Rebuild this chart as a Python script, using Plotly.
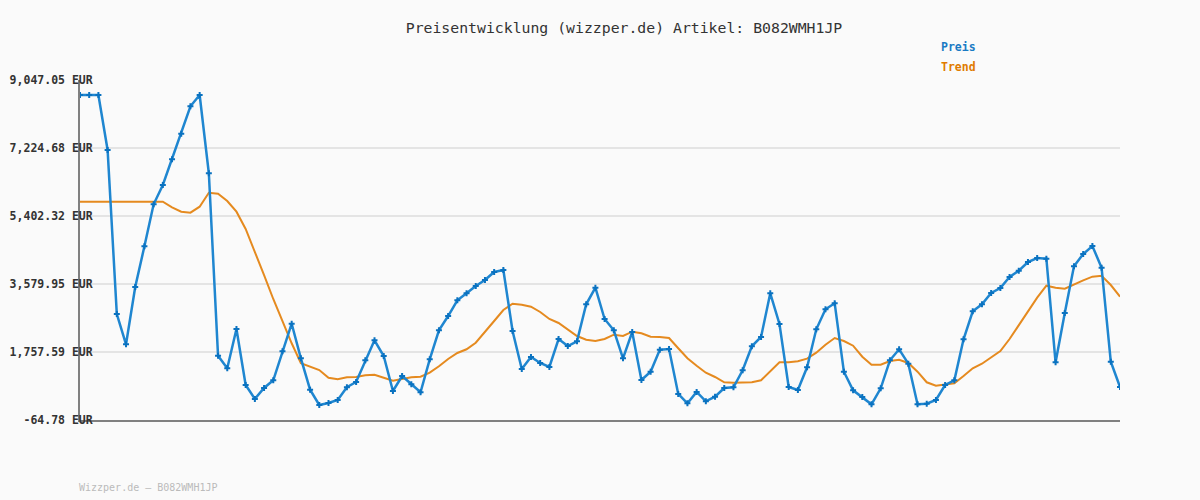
import plotly.graph_objects as go

title_text = "Preisentwicklung (wizzper.de) Artikel: B082WMH1JP"
watermark = "Wizzper.de – B082WMH1JP"
series_names = ["Preis", "Trend"]

preis = [8645, 8645, 8645, 7171, 2776, 1964, 3500, 4590, 5716, 6233,
         6922, 7608, 8342, 8645, 6547, 1658, 1321, 2374, 873, 498,
         793, 999, 1776, 2516, 1589, 747, 337, 391, 471, 812,
         954, 1535, 2071, 1650, 712, 1114, 892, 678, 1562, 2339,
         2722, 3143, 3331, 3526, 3687, 3902, 3955, 2320, 1302, 1624,
         1463, 1356, 2106, 1918, 2044, 3036, 3481, 2642, 2339, 1589,
         2294, 1007, 1230, 1819, 1838, 632, 383, 686, 436, 560,
         793, 812, 1267, 1910, 2160, 3331, 2508, 820, 739, 1348,
         2366, 2902, 3063, 1230, 731, 552, 356, 785, 1535, 1830,
         1444, 356, 372, 471, 873, 999, 2098, 2848, 3036, 3339,
         3473, 3768, 3936, 4170, 4277, 4258, 1482, 2803, 4054, 4384,
         4598, 4017, 1498, 820]

trend = [5786, 5786, 5786, 5786, 5786, 5786, 5786, 5786, 5786, 5786,
         5636, 5518, 5491, 5652, 6027, 6000, 5804, 5518, 5054, 4446,
         3821, 3178, 2570, 1991, 1455, 1364, 1275, 1069, 1026, 1080,
         1088, 1133, 1149, 1069, 988, 1034, 1080, 1096, 1203, 1374,
         1570, 1731, 1830, 2007, 2286, 2588, 2883, 3052, 3025, 2972,
         2830, 2642, 2535, 2355, 2186, 2087, 2052, 2106, 2221, 2186,
         2302, 2259, 2168, 2160, 2133, 1857, 1589, 1390, 1203, 1088,
         946, 935, 935, 946, 999, 1248, 1482, 1482, 1508, 1578,
         1739, 1953, 2133, 2052, 1926, 1632, 1417, 1417, 1516, 1551,
         1463, 1230, 946, 854, 881, 919, 1114, 1321, 1444, 1605,
         1784, 2106, 2481, 2864, 3213, 3534, 3481, 3454, 3572, 3679,
         3776, 3802, 3553, 3240]

y_ticks = [-64.78, 1757.59, 3579.95, 5402.32, 7224.68, 9047.05]

x = list(range(len(preis)))

blue = "#1f86d0"
orange = "#e58a1f"
bg = "#fafafa"

# page body has an 8px margin; compensate so the plot area lands at 80..1120 x 80..420
W, H = 1192, 492
ML, MT, MR, MB = 72, 72, 80, 80
PW, PH = W - ML - MR, H - MT - MB

fig = go.Figure()
fig.add_trace(go.Scatter(
    x=x, y=trend, mode="lines", name=series_names[1],
    line=dict(color=orange, width=2), hoverinfo="skip"))
fig.add_trace(go.Scatter(
    x=x, y=preis, mode="lines+markers", name=series_names[0],
    line=dict(color=blue, width=2.5),
    marker=dict(symbol="cross", size=5, color="#0a72c0", line=dict(width=0))))

fig.update_layout(
    width=W, height=H,
    margin=dict(l=ML, r=MR, t=MT, b=MB, autoexpand=False),
    paper_bgcolor=bg, plot_bgcolor=bg,
    showlegend=False,
    title=dict(text=title_text, x=616 / W, xanchor="center", y=1 - 20 / H, yanchor="middle",
               font=dict(family="DejaVu Sans Mono", size=14.8, color="#333333")),
)
fig.update_xaxes(range=[0, len(preis) - 1], showgrid=False, zeroline=False, automargin=False,
                 showticklabels=False, ticks="", showline=True, linecolor="#808080", linewidth=2)
fig.update_yaxes(range=[y_ticks[0], y_ticks[-1]], tickvals=y_ticks, automargin=False,
                 ticktext=[f"{v:,.2f} EUR" for v in y_ticks],
                 showgrid=True, gridcolor="#e4e4e4", gridwidth=2, zeroline=False,
                 showline=True, linecolor="#808080", linewidth=2, ticks="",
                 ticklabelstandoff=-17,
                 tickfont=dict(family="DejaVu Sans Mono", size=11.5, color="#333333", weight="bold"))

def px_x(page_x):
    return (page_x - 80) / PW

def px_y(page_y):
    return (420 - page_y) / PH

fig.add_annotation(text=series_names[0], xref="paper", yref="paper", x=px_x(939),
                   y=px_y(47), xanchor="left", yanchor="middle", showarrow=False,
                   font=dict(family="DejaVu Sans Mono", size=11.5, color="#1a7ac4", weight="bold"))
fig.add_annotation(text=series_names[1], xref="paper", yref="paper", x=px_x(939),
                   y=px_y(67), xanchor="left", yanchor="middle", showarrow=False,
                   font=dict(family="DejaVu Sans Mono", size=11.5, color="#e07b00", weight="bold"))
fig.add_annotation(text=watermark, xref="paper", yref="paper", x=px_x(77), y=px_y(487),
                   xanchor="left", yanchor="middle", showarrow=False,
                   font=dict(family="DejaVu Sans Mono", size=10, color="#bbbbbb"))

fig.write_html("out.html", post_script="document.body.style.background='%s';" % bg)
